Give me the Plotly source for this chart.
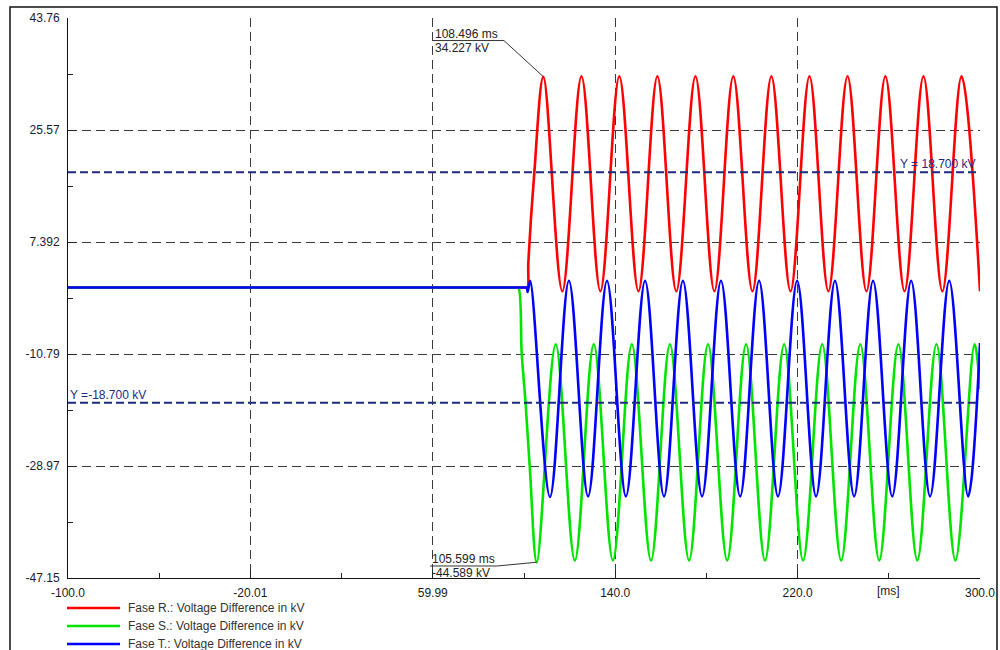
import plotly.graph_objects as go

# ---------------- data ----------------
red_t = [-100, 0.0, 100.5, 101.5, 101.9, 104.4, 108.5, 116.8, 125.2, 133.5, 141.8, 150.2, 158.5, 166.8,
         175.2, 183.5, 191.8, 200.2, 208.5, 216.9, 225.2, 233.5, 241.9, 250.2, 258.5, 266.9,
         275.2, 283.5, 291.9, 300.0]
red_v = [0.0, 0.0, 0.0, 0.0, 4.0, 18.0, 34.2, -0.6, 34.3, -0.6, 34.3, -0.6, 34.3, -0.6,
         34.3, -0.6, 34.3, -0.6, 34.3, -0.6, 34.3, -0.6, 34.3, -0.6, 34.3, -0.6,
         34.3, -0.6, 34.3, -0.6]

green_t = [-100, 0.0, 96.5, 97.5, 99.0, 100.7, 102.6, 105.6, 113.9, 122.3, 130.6, 139.0, 147.3, 155.7,
           164.0, 172.4, 180.7, 189.1, 197.4, 205.7, 214.1, 222.4, 230.8, 239.1, 247.5, 255.8,
           264.2, 272.5, 280.9, 289.2, 297.6, 300.0]
green_v = [0.0, 0.0, 0.0, 0.0, -10.7, -18.8, -29.6, -44.6, -9.2, -44.3, -9.2, -44.3, -9.2, -44.3,
           -9.2, -44.3, -9.2, -44.3, -9.2, -44.3, -9.2, -44.3, -9.2, -44.3, -9.2, -44.3,
           -9.2, -44.3, -9.2, -44.3, -9.2, -16.5]

blue_t = [-100, 0.0, 100.2, 101.2, 101.6, 102.7, 111.4, 119.7, 128.1, 136.4, 144.7, 153.1, 161.4, 169.7,
          178.1, 186.4, 194.8, 203.1, 211.4, 219.8, 228.1, 236.4, 244.8, 253.1, 261.5, 269.8,
          278.1, 286.5, 294.8, 300.0]
blue_v = [0.0, 0.0, 0.0, 0.0, -0.7, 1.1, -34.0, 1.1, -33.9, 1.1, -33.9, 1.1, -33.9, 1.1,
          -33.9, 1.1, -33.9, 1.1, -33.9, 1.1, -33.9, 1.1, -33.9, 1.1, -33.9, 1.1,
          -33.9, 1.1, -33.9, -9.0]

series_names = ["Fase R.: Voltage Difference in kV",
                "Fase S.: Voltage Difference in kV",
                "Fase T.: Voltage Difference in kV"]
series_colors = ["#FF0000", "#00E400", "#0000FF"]

x_ticks = [-100.0, -20.01, 59.99, 140.0, 220.0, 300.0]
x_ticktext = ["-100.0", "-20.01", "59.99", "140.0", "220.0", "300.0"]
x_minor = [-60.0, 20.0, 100.0, 180.0, 260.0]
x_unit_pos = 260.0
x_unit_label = "[ms]"

y_ticks = [43.76, 25.57, 7.392, -10.79, -28.97, -47.15]
y_ticktext = ["43.76", "25.57", "7.392", "-10.79", "-28.97", "-47.15"]
y_minor = [34.665, 16.481, -1.699, -19.88, -38.06]

x_range = [-100.0, 300.0]
y_range = [-47.15, 43.76]

ref_levels = [18.7, -18.7]
ref_labels = ["Y = 18.700 kV", "Y =-18.700 kV"]

marker_R = (108.496, 34.227)
marker_S = (105.599, -44.589)

# ---------------- figure ----------------
FONT = "Liberation Sans, Arial, sans-serif"
fig = go.Figure()
for t, v, name, col in zip([red_t, green_t, blue_t], [red_v, green_v, blue_v],
                           series_names, series_colors):
    fig.add_trace(go.Scatter(x=t, y=v, mode="lines", name=name, showlegend=False,
                             line=dict(color=col, width=2.6, shape="spline", smoothing=1)))

grid = dict(showgrid=True, gridcolor="#3a3a3a", gridwidth=1, griddash="9px,5px")
fig.update_xaxes(range=x_range, tickmode="array", tickvals=x_ticks, ticktext=x_ticktext,
                 ticks="inside", ticklen=8, tickcolor="#222", showline=True, linecolor="#111",
                 linewidth=1, zeroline=False, ticklabelstandoff=4, automargin=False,
                 tickfont=dict(family=FONT, size=12, color="#1a1a1a"),
                 minor=dict(tickmode="array", tickvals=x_minor, ticks="inside", ticklen=5,
                            tickcolor="#222", showgrid=False),
                 **grid)
fig.update_yaxes(range=y_range, tickmode="array", tickvals=y_ticks, ticktext=y_ticktext,
                 ticks="inside", ticklen=8, tickcolor="#222", showline=True, linecolor="#111",
                 linewidth=1, zeroline=False, ticklabelstandoff=5, automargin=False,
                 tickfont=dict(family=FONT, size=12, color="#1a1a33"),
                 minor=dict(tickmode="array", tickvals=y_minor, ticks="inside", ticklen=5,
                            tickcolor="#222", showgrid=False),
                 **grid)

shapes = []
annotations = []
navy = "#1c2a80"
# reference levels
for lvl in ref_levels:
    shapes.append(dict(type="line", xref="paper", yref="y", x0=0, x1=1, y0=lvl, y1=lvl,
                       line=dict(color=navy, width=2, dash="8px,4px"), layer="above"))
annotations.append(dict(x=1, xref="paper", y=ref_levels[0], yref="y", text=ref_labels[0],
                        showarrow=False, xanchor="right", yanchor="bottom", yshift=-1, xshift=-2,
                        font=dict(family=FONT, size=12, color=navy)))
annotations.append(dict(x=0, xref="paper", y=ref_levels[1], yref="y", text=ref_labels[1],
                        showarrow=False, xanchor="left", yanchor="bottom", yshift=-1,
                        font=dict(family=FONT, size=12, color=navy)))

# unit label on x axis
annotations.append(dict(x=x_unit_pos, xref="x", y=0, yref="paper", text=x_unit_label,
                        showarrow=False, yanchor="top", yshift=-4,
                        font=dict(family=FONT, size=12, color="#1a1a1a")))

# marker callouts (R max, S min)
lead = "#333333"
tR, vR = marker_R
shapes.append(dict(type="line", xref="x", yref="y", x0=60.1, y0=40.1, x1=91.2, y1=40.1,
                   line=dict(color=lead, width=1)))
shapes.append(dict(type="line", xref="x", yref="y", x0=91.2, y0=40.1, x1=tR, y1=vR,
                   line=dict(color=lead, width=1)))
annotations.append(dict(x=60.1, xref="x", y=40.1, yref="y", text=f"{tR:.3f} ms",
                        showarrow=False, xanchor="left", yanchor="bottom", yshift=-2,
                        font=dict(family=FONT, size=12, color="#222")))
annotations.append(dict(x=60.1, xref="x", y=40.1, yref="y", text=f"{vR:.3f} kV",
                        showarrow=False, xanchor="left", yanchor="top", yshift=2,
                        font=dict(family=FONT, size=12, color="#222")))

tS, vS = marker_S
shapes.append(dict(type="line", xref="x", yref="y", x0=58.8, y0=-45.2, x1=88.2, y1=-45.2,
                   line=dict(color=lead, width=1)))
shapes.append(dict(type="line", xref="x", yref="y", x0=88.2, y0=-45.2, x1=tS, y1=vS,
                   line=dict(color=lead, width=1)))
annotations.append(dict(x=58.8, xref="x", y=-45.2, yref="y", text=f"{tS:.3f} ms",
                        showarrow=False, xanchor="left", yanchor="bottom", yshift=-2,
                        font=dict(family=FONT, size=12, color="#222")))
annotations.append(dict(x=58.8, xref="x", y=-45.2, yref="y", text=f"{vS:.3f} kV",
                        showarrow=False, xanchor="left", yanchor="top", yshift=2,
                        font=dict(family=FONT, size=12, color="#222")))

# legend (drawn below the plot)
W, H = 912.0, 560.0
L, T = 68.0, 18.0
def px(xp):
    return (xp - L) / W
def py(yp):
    return (T + H - yp) / H
legend_rows = [608, 626, 644]
for name, col, yr in zip(series_names, series_colors, legend_rows):
    shapes.append(dict(type="line", xref="paper", yref="paper", x0=px(67), x1=px(120),
                       y0=py(yr), y1=py(yr), line=dict(color=col, width=2.5)))
    annotations.append(dict(x=px(126), xref="paper", y=py(yr), yref="paper", text=name,
                            showarrow=False, xanchor="left", yanchor="middle",
                            font=dict(family=FONT, size=12, color="#333")))

# outer frame
shapes.append(dict(type="rect", xref="paper", yref="paper", x0=px(10), x1=px(997),
                   y0=py(660), y1=py(7), line=dict(color="#111", width=1.5)))

fig.update_layout(width=1000, height=650, margin=dict(l=68, r=20, t=18, b=72),
                  paper_bgcolor="white", plot_bgcolor="white", showlegend=False,
                  shapes=shapes, annotations=annotations,
                  font=dict(family=FONT, size=12, color="#222"))

fig.write_html("out.html")
